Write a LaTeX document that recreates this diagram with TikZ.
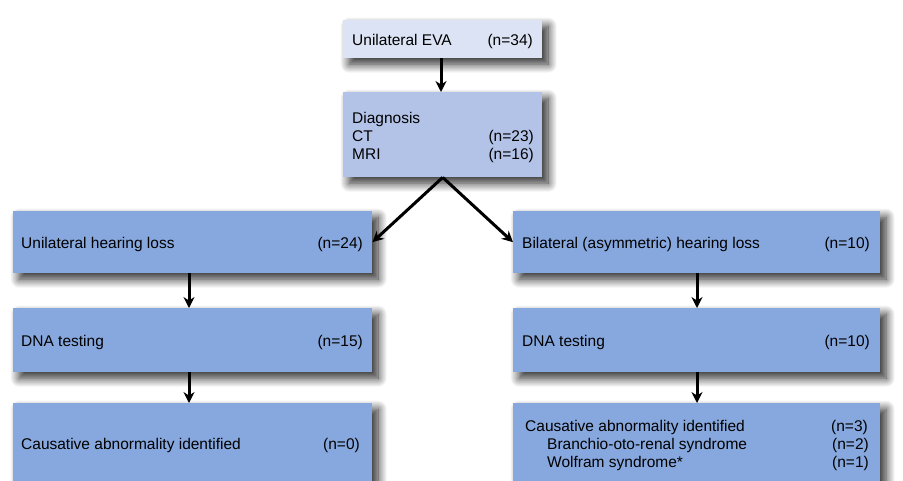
\documentclass[tikz,border=0pt]{standalone}
\usepackage{fontspec}
\setmainfont{Liberation Sans}
\usetikzlibrary{arrows.meta,shadows.blur}
\definecolor{boxA}{HTML}{DCE3F4}
\definecolor{boxB}{HTML}{B3C3E8}
\definecolor{boxC}{HTML}{87A8DE}
\tikzset{
  flowbox/.style={rectangle, inner sep=0pt, anchor=north west, draw=none,
    blur shadow={shadow xshift=6pt, shadow yshift=-6pt, shadow blur steps=16, shadow blur radius=9pt, shadow opacity=85}},
  lbl/.style={inner sep=0pt, font=\fontsize{15.5}{18}\selectfont, anchor=base west},
  rlbl/.style={inner sep=0pt, font=\fontsize{15.5}{18}\selectfont, anchor=base east},
  arr/.style={-{Stealth[length=11pt,width=11pt]}, line width=3pt, black}
}
\begin{document}
\begin{tikzpicture}[x=1pt,y=-1pt]
\useasboundingbox (0,0) rectangle (903,480);
% boxes
\node[flowbox, fill=boxA, minimum width=199pt, minimum height=38pt] (top) at (343,20) {};
\node[flowbox, fill=boxB, minimum width=199pt, minimum height=85pt] (diag) at (343,92) {};
\node[flowbox, fill=boxC, minimum width=359pt, minimum height=62pt] (lhl) at (13,211) {};
\node[flowbox, fill=boxC, minimum width=367pt, minimum height=62pt] (rhl) at (513,211) {};
\node[flowbox, fill=boxC, minimum width=359pt, minimum height=64pt] (ldna) at (13,308) {};
\node[flowbox, fill=boxC, minimum width=367pt, minimum height=64pt] (rdna) at (513,308) {};
\node[flowbox, fill=boxC, minimum width=359pt, minimum height=90pt] (lcau) at (13,403) {};
\node[flowbox, fill=boxC, minimum width=367pt, minimum height=90pt] (rcau) at (513,403) {};
% texts
\node[lbl] (t1) at (352,45) {Unilateral EVA};
\node[rlbl] (t1n) at (533,45) {(n=34)};
\node[lbl] (t2) at (352,123) {Diagnosis};
\node[rlbl] (t3n) at (534,141) {(n=23)};
\node[lbl] (t3) at (352,141) {CT};
\node[lbl] (t4) at (352,159) {MRI};
\node[rlbl] (t4n) at (534,159) {(n=16)};
\node[lbl] (t5) at (21,248) {Unilateral hearing loss};
\node[rlbl] (t5n) at (363,248) {(n=24)};
\node[lbl] (t6) at (522,248) {Bilateral (asymmetric) hearing loss};
\node[rlbl] (t6n) at (870,248) {(n=10)};
\node[lbl] (t7) at (21,346) {DNA testing};
\node[rlbl] (t7n) at (363,346) {(n=15)};
\node[lbl] (t8) at (522,346) {DNA testing};
\node[rlbl] (t8n) at (870,346) {(n=10)};
\node[lbl] (t9) at (21,449) {Causative abnormality identified};
\node[rlbl] (t9n) at (360,449) {(n=0)};
\node[lbl] (t10) at (525,431) {Causative abnormality identified};
\node[rlbl] (t10n) at (868,431) {(n=3)};
\node[lbl] (t11) at (547,449) {Branchio-oto-renal syndrome};
\node[rlbl] (t11n) at (869,449) {(n=2)};
\node[lbl] (t12) at (547,467) {Wolfram syndrome*};
\node[rlbl] (t12n) at (869,467) {(n=1)};
% arrows
\draw[arr] (top.south -| 441,0) -- (diag.north -| 441,0);
\draw[arr] (diag.south) -- (lhl.east);
\draw[arr] (diag.south) -- (rhl.west);
\draw[arr] (lhl.south -| 189,0) -- (ldna.north -| 189,0);
\draw[arr] (ldna.south -| 189,0) -- (lcau.north -| 189,0);
\draw[arr] (rhl.south -| 697,0) -- (rdna.north -| 697,0);
\draw[arr] (rdna.south -| 697,0) -- (rcau.north -| 697,0);
\end{tikzpicture}
\end{document}
